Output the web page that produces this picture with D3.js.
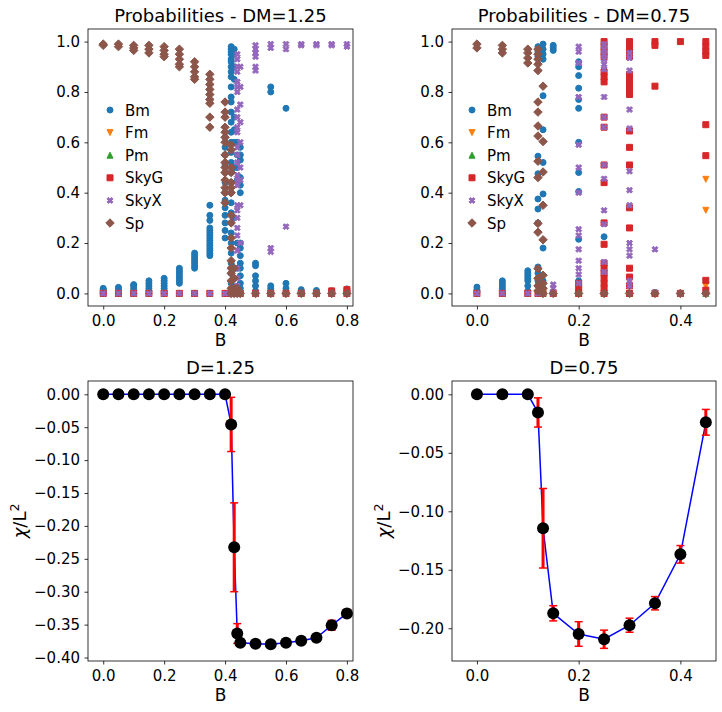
<!DOCTYPE html>
<html>
<head>
<meta charset="utf-8">
<script src="https://cdn.jsdelivr.net/npm/d3@7"></script>
<style>
  body { margin: 0; background: #fff; }
  text { font-family: "DejaVu Sans", sans-serif; fill: #000; }
</style>
</head>
<body>
<div id="chart"></div>
<script>
// ---- data: probabilities, DM = 1.25 (each entry: [B, [probabilities...]])
var dm125_Bm = [
  [0, [0.0, 0.005, 0.01, 0.015, 0.02]],
  [0.05, [0.0, 0.008, 0.016, 0.024]],
  [0.1, [0.0, 0.01, 0.02, 0.03, 0.035]],
  [0.15, [0.0, 0.01, 0.02, 0.03, 0.04, 0.05]],
  [0.2, [0.0, 0.01, 0.02, 0.03, 0.04, 0.05, 0.06]],
  [0.25, [0.04, 0.05, 0.06, 0.07, 0.08, 0.09, 0.1]],
  [0.3, [0.1, 0.11, 0.12, 0.13, 0.14, 0.15, 0.16]],
  [0.35, [0.15, 0.16, 0.17, 0.18, 0.19, 0.2, 0.21, 0.22, 0.23, 0.24, 0.25, 0.26, 0.29, 0.31, 0.35]],
  [0.4, [0.22, 0.25, 0.28, 0.31, 0.34, 0.37, 0.4, 0.44, 0.48, 0.51, 0.55, 0.58, 0.62]],
  [0.42, [0.98, 0.97, 0.96, 0.95, 0.93, 0.92, 0.9, 0.88, 0.86, 0.82, 0.78, 0.76, 0.72, 0.68, 0.64, 0.6, 0.56, 0.52, 0.48, 0.44, 0.4, 0.36, 0.32, 0.28, 0.24, 0.2, 0.16, 0.12, 0.08, 0.04, 0.01]],
  [0.43, [0.97, 0.95, 0.9, 0.85, 0.7, 0.65, 0.6, 0.5, 0.3]],
  [0.44, [0.6, 0.55, 0.5, 0.45, 0.2, 0.1]],
  [0.45, [0.58, 0.55, 0.53, 0.46, 0.43, 0.4, 0.2, 0.18, 0.15, 0.12, 0.1, 0.07, 0.04, 0.02]],
  [0.5, [0.12, 0.11, 0.07, 0.05, 0.03, 0.01]],
  [0.55, [0.82, 0.8, 0.03, 0.02, 0.01]],
  [0.6, [0.735, 0.04, 0.02]],
  [0.65, [0.015, 0.005]],
  [0.7, [0.012]],
  [0.75, [0.01]],
  [0.8, [0.018]]
];
var dm125_B = [0, 0.05, 0.1, 0.15, 0.2, 0.25, 0.3, 0.35, 0.4, 0.42, 0.43, 0.44, 0.45, 0.5, 0.55, 0.6, 0.65, 0.7, 0.75, 0.8];
var dm125_Fm = dm125_B.map(function (b) { return [b, [0]]; });
var dm125_Pm = dm125_B.map(function (b) { return [b, [0]]; });
var dm125_SkyG = dm125_B.map(function (b) { return [b, [0]]; }).concat([[0.75, [0.01]], [0.8, [0.015]]]);
var dm125_SkyX = [
  [0, [0]], [0.05, [0]], [0.1, [0]], [0.15, [0]], [0.2, [0]], [0.25, [0]], [0.3, [0]], [0.35, [0]], [0.4, [0]], [0.42, [0]],
  [0.44, [0.95, 0.93, 0.9, 0.88, 0.84, 0.82, 0.8, 0.73, 0.7, 0.66, 0.64, 0.58, 0.55, 0.52, 0.47, 0.45, 0.43, 0.35, 0.33, 0.3, 0.26, 0.23, 0.17, 0.1, 0.06, 0.03, 0.0]],
  [0.45, [0.9, 0.82, 0.75, 0.68, 0.6, 0.5, 0.45, 0.35, 0.2, 0.0]],
  [0.5, [0.985, 0.97, 0.955, 0.94, 0.9, 0.885, 0.0]],
  [0.55, [0.99, 0.975, 0.18, 0.165, 0.0]],
  [0.6, [0.99, 0.97, 0.265, 0.0]],
  [0.65, [0.99, 0.985, 0.0]],
  [0.7, [0.99, 0.985, 0.0]],
  [0.75, [0.99, 0.985, 0.0]],
  [0.8, [0.99, 0.98, 0.0]]
];
var dm125_Sp = [
  [0, [0.99, 0.985]],
  [0.05, [0.99, 0.98]],
  [0.1, [0.985, 0.975, 0.965]],
  [0.15, [0.985, 0.97, 0.955]],
  [0.2, [0.98, 0.965, 0.95, 0.94]],
  [0.25, [0.97, 0.95, 0.93, 0.91, 0.9]],
  [0.3, [0.92, 0.9, 0.88, 0.86, 0.85]],
  [0.35, [0.87, 0.85, 0.83, 0.81, 0.79, 0.77, 0.755, 0.7, 0.66]],
  [0.4, [0.76, 0.72, 0.7, 0.66, 0.64, 0.62, 0.6, 0.55, 0.52, 0.5, 0.48, 0.45, 0.42, 0.4, 0.36]],
  [0.42, [0.59, 0.57, 0.5, 0.48, 0.44, 0.42, 0.4, 0.31, 0.28, 0.22, 0.18, 0.13, 0.1, 0.08, 0.05, 0.02, 0.0]],
  [0.43, [0.1, 0.06, 0.02, 0.0]],
  [0.44, [0.02, 0.0]],
  [0.45, [0.0]], [0.5, [0.0]], [0.55, [0.0]], [0.6, [0.0]], [0.65, [0.0]], [0.7, [0.0]], [0.75, [0.0]], [0.8, [0.0]]
];

// ---- data: probabilities, DM = 0.75
var dm075_B = [0, 0.05, 0.1, 0.12, 0.13, 0.15, 0.2, 0.25, 0.3, 0.35, 0.4, 0.45];
var dm075_Bm = [
  [0, [0.005, 0.015, 0.025]],
  [0.05, [0.01, 0.02, 0.03, 0.04, 0.05]],
  [0.1, [0.01, 0.03, 0.05, 0.06, 0.07, 0.08, 0.09]],
  [0.12, [0.98, 0.96, 0.94, 0.545, 0.475, 0.375, 0.335, 0.28, 0.105, 0.08, 0.05, 0.03]],
  [0.13, [0.99, 0.97, 0.95, 0.93, 0.785, 0.65, 0.52, 0.395, 0.18, 0.05, 0.02]],
  [0.15, [0.985, 0.975, 0.965]],
  [0.2, [0.92, 0.9, 0.865, 0.815, 0.77, 0.735, 0.6, 0.48, 0.405, 0.215, 0.05]],
  [0.25, [0.225]]
];
var dm075_Fm = dm075_B.map(function (b) { return [b, [0]]; }).concat([[0.45, [0.453, 0.33, 0.03]]]);
var dm075_Pm = dm075_B.map(function (b) { return [b, [0]]; });
var dm075_SkyG = [
  [0, [0]], [0.05, [0]], [0.1, [0]], [0.12, [0]], [0.13, [0]], [0.15, [0]],
  [0.2, [0.04, 0.02, 0.0]],
  [0.25, [1.0, 0.98, 0.96, 0.94, 0.88, 0.86, 0.84, 0.7, 0.66, 0.51, 0.44, 0.28, 0.195, 0.12, 0.1, 0.08, 0.06, 0.04, 0.02, 0.0]],
  [0.3, [1.0, 0.98, 0.96, 0.94, 0.87, 0.85, 0.83, 0.81, 0.79, 0.645, 0.58, 0.51, 0.34, 0.26, 0.1, 0.065, 0.03, 0.0]],
  [0.35, [1.0, 0.985, 0.823, 0.0]],
  [0.4, [1.0, 0.0]],
  [0.45, [1.0, 0.98, 0.96, 0.945, 0.67, 0.547, 0.052, 0.013]]
];
var dm075_SkyX = [
  [0, [0]], [0.05, [0]], [0.1, [0]], [0.12, [0.02, 0]], [0.13, [0.03, 0.015, 0]],
  [0.15, [0.035, 0.02, 0]],
  [0.2, [0.98, 0.96, 0.915, 0.78, 0.59, 0.5, 0.4, 0.255, 0.23, 0.175, 0.13, 0.1, 0.075, 0.04]],
  [0.25, [0.99, 0.97, 0.95, 0.93, 0.91, 0.89, 0.78, 0.7, 0.66, 0.51, 0.455, 0.33, 0.275, 0.125, 0.085]],
  [0.3, [0.955, 0.935, 0.885, 0.73, 0.655, 0.485, 0.41, 0.35, 0.2, 0.175, 0.15, 0.05, 0.03]],
  [0.35, [0.175, 0.005]],
  [0.4, [0]], [0.45, [0]]
];
var dm075_Sp = [
  [0, [0.99, 0.975]],
  [0.05, [0.985, 0.97, 0.955]],
  [0.1, [0.97, 0.955, 0.935, 0.915]],
  [0.12, [0.97, 0.95, 0.93, 0.91, 0.885, 0.76, 0.72, 0.665, 0.625, 0.525, 0.46, 0.278, 0.243, 0.098, 0.06, 0.03, 0.01]],
  [0.13, [0.823, 0.603, 0.482, 0.35, 0.213, 0.072, 0.04, 0.02, 0.0]],
  [0.15, [0]], [0.2, [0]], [0.25, [0]], [0.3, [0]], [0.35, [0]], [0.4, [0]], [0.45, [0]]
];

// ---- data: chi/L^2 with error bars
var d125_B = [0, 0.05, 0.1, 0.15, 0.2, 0.25, 0.3, 0.35, 0.4, 0.42, 0.43, 0.44, 0.45, 0.5, 0.55, 0.6, 0.65, 0.7, 0.75, 0.8];
var d125_chi = [0, 0, 0, 0, 0, 0, 0, 0, 0, -0.0458, -0.2325, -0.3635, -0.3775, -0.3790, -0.3800, -0.3775, -0.3745, -0.3700, -0.3510, -0.3330];
var d125_err = [0, 0, 0, 0, 0, 0, 0, 0, 0, 0.0412, 0.0675, 0.0150, 0.0040, 0.0020, 0.0020, 0.0020, 0.0020, 0.0025, 0.0075, 0.0060];

var d075_B = [0, 0.05, 0.1, 0.12, 0.13, 0.15, 0.2, 0.25, 0.3, 0.35, 0.4, 0.45];
var d075_chi = [0, 0, 0, -0.0155, -0.1145, -0.1872, -0.2049, -0.2094, -0.1974, -0.1786, -0.1368, -0.0239];
var d075_err = [0, 0, 0, 0.0125, 0.0340, 0.0065, 0.0105, 0.0078, 0.0060, 0.0057, 0.0075, 0.0110];

// ---- tick labels
var probTicks = [0, 0.2, 0.4, 0.6, 0.8, 1.0];
var bTicksWide = [0, 0.2, 0.4, 0.6, 0.8];
var bTicksNarrow = [0, 0.2, 0.4];
var chiTicks125 = [0, -0.05, -0.1, -0.15, -0.2, -0.25, -0.3, -0.35, -0.4];
var chiTicks075 = [0, -0.05, -0.1, -0.15, -0.2];

var seriesNames = ["Bm", "Fm", "Pm", "SkyG", "SkyX", "Sp"];
var seriesColors = ["#1f77b4", "#ff7f0e", "#2ca02c", "#d62728", "#9467bd", "#8c564b"];

// marker shapes (matplotlib-like, size 6px)
var markerPaths = {
  Bm: "M3,0A3,3 0 1,1 -3,0A3,3 0 1,1 3,0Z",
  Fm: "M0,3L3,-3L-3,-3Z",
  Pm: "M0,-3L3,3L-3,3Z",
  SkyG: "M-3,-3H3V3H-3Z",
  SkyX: "M-1.5,-3L0,-1.5L1.5,-3L3,-1.5L1.5,0L3,1.5L1.5,3L0,1.5L-1.5,3L-3,1.5L-1.5,0L-3,-1.5Z",
  Sp: "M0,-4.24L4.24,0L0,4.24L-4.24,0Z"
};

var W = 722, H = 712;
var svg = d3.select("#chart").append("svg")
  .attr("width", W)
  .attr("height", H)
  .style("background", "#fff");

// set up one panel: frame, scales, axes
function panel(box, xDom, yDom, xTicks, yTicks, yFmt, title, ylabel) {
  var x = d3.scaleLinear().domain(xDom).range([box.x0, box.x1]);
  var y = d3.scaleLinear().domain(yDom).range([box.y1, box.y0]);
  var g = svg.append("g");

  g.append("g")
    .attr("transform", "translate(0," + box.y1 + ")")
    .call(d3.axisBottom(x).tickValues(xTicks).tickFormat(d3.format(".1f")).tickSize(3.5).tickPadding(5.5))
    .call(styleAxis);
  g.append("g")
    .attr("transform", "translate(" + box.x0 + ",0)")
    .call(d3.axisLeft(y).tickValues(yTicks).tickFormat(d3.format(yFmt)).tickSize(3.5).tickPadding(4.5))
    .call(styleAxis);

  g.append("rect")
    .attr("x", box.x0).attr("y", box.y0)
    .attr("width", box.x1 - box.x0).attr("height", box.y1 - box.y0)
    .attr("fill", "none").attr("stroke", "#000").attr("stroke-width", 0.8);

  g.append("text")
    .attr("x", (box.x0 + box.x1) / 2).attr("y", box.y0 - 7)
    .attr("text-anchor", "middle")
    .style("font-size", "18px")
    .text(title);

  g.append("text")
    .attr("x", (box.x0 + box.x1) / 2).attr("y", box.y1 + 40)
    .attr("text-anchor", "middle")
    .style("font-size", "17px")
    .text("B");

  if (ylabel) {
    var t = g.append("text")
      .attr("transform", "translate(" + (box.x0 - 62) + "," + ((box.y0 + box.y1) / 2) + ") rotate(-90)")
      .attr("text-anchor", "middle")
      .style("font-size", "18px");
    t.append("tspan").style("font-style", "italic").text("χ");
    t.append("tspan").text("/L");
    t.append("tspan").attr("dy", -7).style("font-size", "12.5px").text("2");
  }
  return { g: g, x: x, y: y };
}

function styleAxis(sel) {
  sel.select(".domain").remove();
  sel.selectAll(".tick line").attr("stroke", "#000").attr("stroke-width", 0.8);
  sel.selectAll(".tick text").style("font-size", "15px").attr("fill", "#000")
    .style("font-family", "DejaVu Sans, sans-serif");
}

function flatten(list) {
  var pts = [];
  list.forEach(function (d) {
    d[1].forEach(function (v) { pts.push([d[0], v]); });
  });
  return pts;
}

function scatterPanel(box, xDom, xTicks, title, series, legendX) {
  var p = panel(box, xDom, [-0.05, 1.05], xTicks, probTicks, ".1f", title, null);
  seriesNames.forEach(function (name, i) {
    p.g.append("g").selectAll("path")
      .data(flatten(series[i]))
      .enter().append("path")
      .attr("d", markerPaths[name])
      .attr("transform", function (d) { return "translate(" + p.x(d[0]) + "," + p.y(d[1]) + ")"; })
      .attr("fill", seriesColors[i])
      .attr("stroke", seriesColors[i])
      .attr("stroke-width", 1);
  });

  // legend (no frame)
  var lg = p.g.append("g");
  seriesNames.forEach(function (name, i) {
    var ly = 110 + i * 22.6;
    lg.append("path")
      .attr("d", markerPaths[name])
      .attr("transform", "translate(" + legendX + "," + ly + ")")
      .attr("fill", seriesColors[i])
      .attr("stroke", seriesColors[i]);
    lg.append("text")
      .attr("x", legendX + 15).attr("y", ly + 5.5)
      .style("font-size", "15px")
      .text(name);
  });
}

function chiPanel(box, xDom, yDom, xTicks, yTicks, title, bs, chi, err) {
  var p = panel(box, xDom, yDom, xTicks, yTicks, ".2f", title, true);
  var pts = bs.map(function (b, i) { return { b: b, v: chi[i], e: err[i] }; });

  p.g.append("path")
    .datum(pts)
    .attr("fill", "none")
    .attr("stroke", "#0000ff")
    .attr("stroke-width", 1.5)
    .attr("d", d3.line().x(function (d) { return p.x(d.b); }).y(function (d) { return p.y(d.v); }));

  var eb = p.g.append("g").selectAll("g")
    .data(pts.filter(function (d) { return d.e > 0; }))
    .enter().append("g");
  eb.append("line")
    .attr("x1", function (d) { return p.x(d.b); }).attr("x2", function (d) { return p.x(d.b); })
    .attr("y1", function (d) { return p.y(d.v + d.e); }).attr("y2", function (d) { return p.y(d.v - d.e); })
    .attr("stroke", "red").attr("stroke-width", 3);
  [1, -1].forEach(function (s) {
    eb.append("line")
      .attr("x1", function (d) { return p.x(d.b) - 4; }).attr("x2", function (d) { return p.x(d.b) + 4; })
      .attr("y1", function (d) { return p.y(d.v + s * d.e); }).attr("y2", function (d) { return p.y(d.v + s * d.e); })
      .attr("stroke", "red").attr("stroke-width", 1.5);
  });

  p.g.append("g").selectAll("circle")
    .data(pts)
    .enter().append("circle")
    .attr("cx", function (d) { return p.x(d.b); })
    .attr("cy", function (d) { return p.y(d.v); })
    .attr("r", 6)
    .attr("fill", "#000");
}

scatterPanel({ x0: 88, x1: 353, y0: 29, y1: 306 }, [-0.05, 0.82], bTicksWide, "Probabilities - DM=1.25",
  [dm125_Bm, dm125_Fm, dm125_Pm, dm125_SkyG, dm125_SkyX, dm125_Sp], 110);
scatterPanel({ x0: 452, x1: 716, y0: 29, y1: 306 }, [-0.049, 0.47], bTicksNarrow, "Probabilities - DM=0.75",
  [dm075_Bm, dm075_Fm, dm075_Pm, dm075_SkyG, dm075_SkyX, dm075_Sp], 472);

chiPanel({ x0: 88, x1: 353, y0: 381, y1: 661 }, [-0.05, 0.82], [-0.4053, 0.0202], bTicksWide, chiTicks125,
  "D=1.25", d125_B, d125_chi, d125_err);
chiPanel({ x0: 452, x1: 716, y0: 381, y1: 661 }, [-0.049, 0.47], [-0.228, 0.0114], bTicksNarrow, chiTicks075,
  "D=0.75", d075_B, d075_chi, d075_err);
</script>
</body>
</html>
